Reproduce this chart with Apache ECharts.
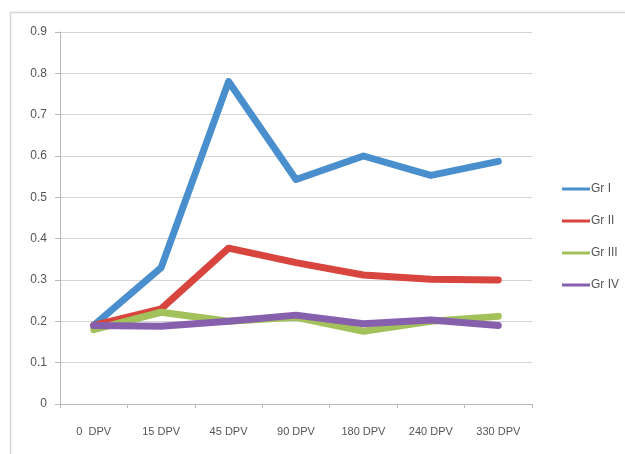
<!DOCTYPE html>
<html>
<head>
<meta charset="utf-8">
<script src="https://cdn.jsdelivr.net/npm/echarts@6/dist/echarts.min.js"></script>
<style>
  html, body { margin: 0; padding: 0; background: #fff; }
  #chart { width: 625px; height: 454px; }
</style>
</head>
<body>
<div id="chart"></div>
<script>
// Sampling times (days post vaccination)
const categories = ['0  DPV', '15 DPV', '45 DPV', '90 DPV', '180 DPV', '240 DPV', '330 DPV'];

// Group means at each time point
const grI   = [0.19, 0.33, 0.78, 0.543, 0.60, 0.553, 0.587];
const grII  = [0.19, 0.23, 0.377, 0.342, 0.312, 0.302, 0.300];
const grIII = [0.18, 0.222, 0.20, 0.21, 0.176, 0.20, 0.212];
const grIV  = [0.19, 0.188, 0.20, 0.215, 0.194, 0.203, 0.19];

const seriesNames = ['Gr I', 'Gr II', 'Gr III', 'Gr IV'];
const seriesData = [grI, grII, grIII, grIV];
const seriesColors = ['#4a8fcd', '#d8453f', '#a3c15a', '#8760ad'];

const chart = echarts.init(document.getElementById('chart'));

chart.setOption({
  animation: false,
  backgroundColor: '#fff',
  graphic: [{
    type: 'rect',
    shape: { x: 10.5, y: 12.5, width: 640, height: 460 },
    style: { fill: 'none', stroke: '#d6d6d6', lineWidth: 1.5 },
    silent: true
  }],
  grid: { left: 60, right: 93, top: 32, bottom: 50 },
  legend: {
    orient: 'vertical',
    left: 557,
    top: 177,
    itemGap: 18,
    itemWidth: 28,
    itemHeight: 3,
    icon: 'rect',
    textStyle: { color: '#555', fontSize: 12, fontFamily: 'Liberation Sans', padding: [0, 0, 0, -4], lineHeight: 14 },
    data: seriesNames
  },
  xAxis: {
    type: 'category',
    data: categories,
    boundaryGap: true,
    axisLine: { lineStyle: { color: '#b8b8b8', width: 1 } },
    axisTick: { show: true, length: 4, alignWithLabel: false, lineStyle: { color: '#b8b8b8' } },
    axisLabel: { color: '#555', fontSize: 11, fontFamily: 'Liberation Sans', margin: 22 }
  },
  yAxis: {
    type: 'value',
    min: 0,
    max: 0.9,
    interval: 0.1,
    axisLine: { show: true, lineStyle: { color: '#b8b8b8', width: 1 } },
    axisTick: { show: true, length: 5, lineStyle: { color: '#b8b8b8' } },
    axisLabel: { color: '#555', fontSize: 12, fontFamily: 'Liberation Sans', margin: 13,
      formatter: v => (Math.round(v * 10) / 10).toString() },
    splitLine: { lineStyle: { color: '#d4d4d4', width: 1 } }
  },
  series: seriesNames.map((name, i) => ({
    name,
    type: 'line',
    data: seriesData[i],
    symbol: 'none',
    color: seriesColors[i],
    lineStyle: { width: 7, color: seriesColors[i], cap: 'round', join: 'round' }
  }))
});
</script>
</body>
</html>
